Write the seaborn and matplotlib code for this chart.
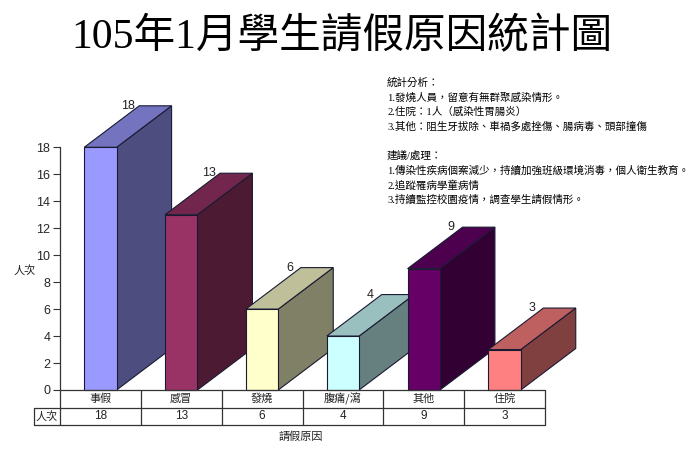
import matplotlib
matplotlib.use("Agg")
import matplotlib.pyplot as plt
import matplotlib.transforms as mtransforms
from matplotlib.patches import Polygon
import seaborn as sns

# ---------------- data ----------------
categories = ["事假", "感冒", "發燒", "腹痛/瀉", "其他", "住院"]
counts = [18, 13, 6, 4, 9, 3]
row_label = "人次"
title = "105年1月學生請假原因統計圖"
x_label = "請假原因"
y_label = "人次"
yticks = [0, 2, 4, 6, 8, 10, 12, 14, 16, 18]
notes = [
    "統計分析：",
    "1.發燒人員，留意有無群聚感染情形。",
    "2.住院：1人（感染性胃腸炎）",
    "3.其他：阻生牙拔除、車禍多處挫傷、腸病毒、頭部撞傷",
    "",
    "建議/處理：",
    "1.傳染性疾病個案減少，持續加強班級環境消毒，個人衛生教育。",
    "2.追蹤罹病學童病情",
    "3.持續監控校園疫情，調查學生請假情形。",
]

# ---------------- style ----------------
front_colors = ["#9999FF", "#993366", "#FFFFCC", "#CCFFFF", "#660066", "#FF8080"]
side_colors = ["#4D4D80", "#4D1A33", "#808066", "#668080", "#330033", "#804040"]
top_colors = ["#7373BF", "#73264D", "#BFBF99", "#99BFBF", "#4D004D", "#BF6060"]
edge = "#1a1a33"

sns.set_style("white")
CJK = ["Noto Sans CJK TC", "DejaVu Sans"]
SERIF = ["Liberation Serif", "Noto Sans CJK TC", "DejaVu Sans"]
plt.rcParams["font.family"] = CJK

W, H = 700, 449
fig = plt.figure(figsize=(7, 4.49), dpi=100)
AX_L, AX_R, AX_Y0, AX_TOP = 60, 545, 390, 147.3
AX_H = AX_Y0 - AX_TOP
ax = fig.add_axes([AX_L / W, (H - AX_Y0) / H, (AX_R - AX_L) / W, AX_H / H])

sns.barplot(x=categories, y=counts, hue=categories, palette=front_colors,
            width=0.4, saturation=1, legend=False, ax=ax,
            edgecolor=edge, linewidth=0.8)

ax.set_xlim(-0.5, len(categories) - 0.5)
ax.set_ylim(0, 18)

px_per_x = (AX_R - AX_L) / len(categories)
px_per_y = AX_H / 18.0
DX = 55.0 / px_per_x   # depth in data units
DY = 41.5 / px_per_y

for i, p in enumerate(ax.patches[:len(categories)]):
    x0 = p.get_x()
    w = p.get_width()
    h = p.get_height()
    x1 = x0 + w
    p.set_zorder(10 + 2 * i + 1)
    p.set_clip_on(False)
    side = Polygon([(x1, 0), (x1, h), (x1 + DX, h + DY), (x1 + DX, DY)],
                   closed=True, facecolor=side_colors[i], edgecolor=edge,
                   linewidth=0.8, zorder=10 + 2 * i, clip_on=False)
    top = Polygon([(x0, h), (x1, h), (x1 + DX, h + DY), (x0 + DX, h + DY)],
                  closed=True, facecolor=top_colors[i], edgecolor=edge,
                  linewidth=0.8, zorder=10 + 2 * i, clip_on=False)
    ax.add_patch(side)
    ax.add_patch(top)
    ax.text(x0 + w / 2 + DX / 2, h + DY, str(counts[i]), ha="center",
            va="center", fontsize=9, color="#222222",
            family=["Liberation Sans", "DejaVu Sans"], zorder=40, clip_on=False)

# axes styling
for s in ["top", "right", "bottom"]:
    ax.spines[s].set_visible(False)
ax.spines["left"].set_color("#333333")
ax.spines["left"].set_linewidth(0.9)
ax.set_yticks(yticks)
ax.set_yticklabels([str(t) for t in yticks],
                   family=["Liberation Sans", "DejaVu Sans"])
ax.tick_params(axis="y", direction="out", length=5, width=0.8,
               color="#333333", labelsize=9, pad=2, left=True)
ax.tick_params(axis="x", bottom=False, labelbottom=False)
ax.set_xlabel("")
ax.set_ylabel("")
ax.grid(False)

# ---------------- data table ----------------
tr = mtransforms.blended_transform_factory(ax.transData, ax.transAxes)
def yf(px):
    return -px / AX_H
r1, r2 = 17.7, 35.0
left_x = -0.5 - 26.0 / px_per_x
n = len(categories)
lw = 0.9
lc = "#333333"
kw = dict(transform=tr, color=lc, linewidth=lw, clip_on=False, zorder=50)
ax.plot([-0.5, n - 0.5], [0, 0], **kw)
ax.plot([left_x, n - 0.5], [yf(r1), yf(r1)], **kw)
ax.plot([left_x, n - 0.5], [yf(r2), yf(r2)], **kw)
ax.plot([left_x, left_x], [yf(r1), yf(r2)], **kw)
for b in range(n + 1):
    ax.plot([b - 0.5, b - 0.5], [0, yf(r2)], **kw)
for i, c in enumerate(categories):
    ax.text(i, yf(r1 / 2), c, transform=tr, ha="center", va="center",
            fontsize=8, color="#222222", clip_on=False)
    ax.text(i, yf((r1 + r2) / 2), str(counts[i]), transform=tr, ha="center",
            va="center", fontsize=8.5, color="#222222",
            family=["Liberation Sans", "DejaVu Sans"], clip_on=False)
ax.text((left_x + -0.5) / 2, yf((r1 + r2) / 2), row_label, transform=tr,
        ha="center", va="center", fontsize=8, color="#222222", clip_on=False)

# ---------------- labels / title / notes ----------------
fig.text(301 / W, 1 - 437 / H, x_label, ha="center", va="center",
         fontsize=8, color="#222222")
fig.text(25 / W, 1 - 270 / H, y_label, ha="center", va="center",
         fontsize=8, color="#222222")
fig.text(342 / W, 1 - 38 / H, title, ha="center", va="center",
         fontsize=30, color="black", family=SERIF)

y0 = 83
step = 14.6
for k, line in enumerate(notes):
    if line:
        fig.text(387 / W, 1 - (y0 + k * step) / H, line, ha="left",
                 va="center", fontsize=7.6, color="black", family=SERIF)

fig.savefig("out.png", dpi=100, facecolor="white")
